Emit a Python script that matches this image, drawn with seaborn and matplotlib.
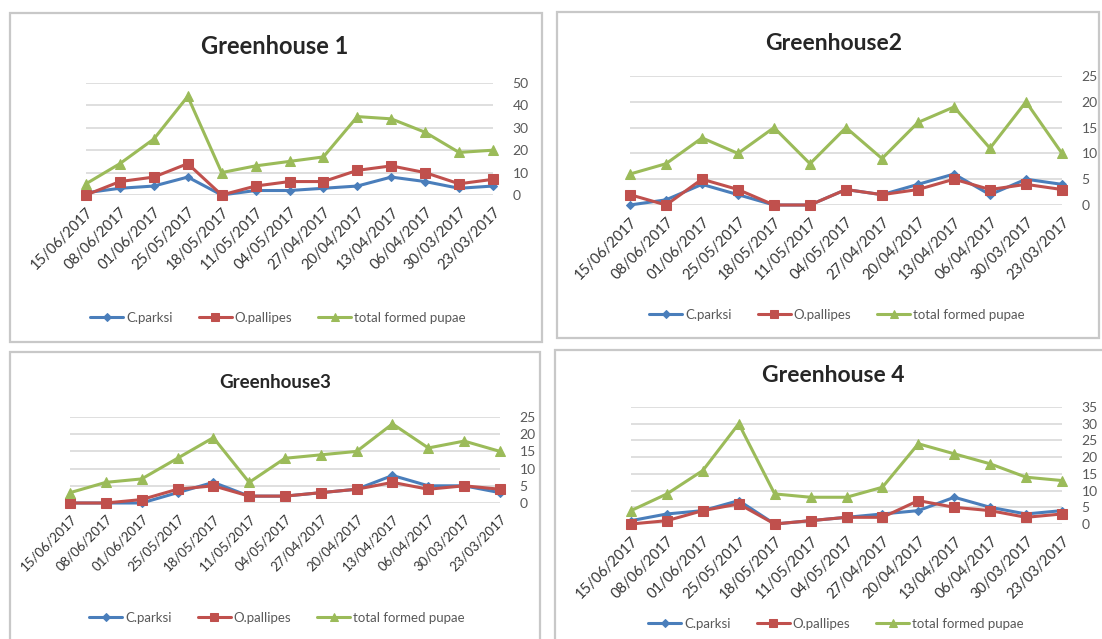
import pandas as pd
import seaborn as sns
import matplotlib.pyplot as plt
from matplotlib.patches import Rectangle

dates = ['15/06/2017', '08/06/2017', '01/06/2017', '25/05/2017', '18/05/2017', '11/05/2017', '04/05/2017',
         '27/04/2017', '20/04/2017', '13/04/2017', '06/04/2017', '30/03/2017', '23/03/2017']
series_names = ['C.parksi', 'O.pallipes', 'total formed pupae']

gh1_parksi = [1, 3, 4, 8, 0, 2, 2, 3, 4, 8, 6, 3, 4]
gh1_pallipes = [0, 6, 8, 14, 0, 4, 6, 6, 11, 13, 10, 5, 7]
gh1_total = [5, 14, 25, 44, 10, 13, 15, 17, 35, 34, 28, 19, 20]

gh2_parksi = [0, 1, 4, 2, 0, 0, 3, 2, 4, 6, 2, 5, 4]
gh2_pallipes = [2, 0, 5, 3, 0, 0, 3, 2, 3, 5, 3, 4, 3]
gh2_total = [6, 8, 13, 10, 15, 8, 15, 9, 16, 19, 11, 20, 10]

gh3_parksi = [0, 0, 0, 3, 6, 2, 2, 3, 4, 8, 5, 5, 3]
gh3_pallipes = [0, 0, 1, 4, 5, 2, 2, 3, 4, 6, 4, 5, 4]
gh3_total = [3, 6, 7, 13, 19, 6, 13, 14, 15, 23, 16, 18, 15]

gh4_parksi = [1, 3, 4, 7, 0, 1, 2, 3, 4, 8, 5, 3, 4]
gh4_pallipes = [0, 1, 4, 6, 0, 1, 2, 2, 7, 5, 4, 2, 3]
gh4_total = [4, 9, 16, 30, 9, 8, 8, 11, 24, 21, 18, 14, 13]

titles = ['Greenhouse 1', 'Greenhouse2', 'Greenhouse3', 'Greenhouse 4']
y_max = [50, 25, 25, 35]
y_step = [10, 5, 5, 5]

W, H = 1102, 639
sns.set_style('white')
plt.rcParams['font.family'] = ['Lato', 'DejaVu Sans']

colors = {'C.parksi': '#4a7ebb', 'O.pallipes': '#c0504d', 'total formed pupae': '#9bbb59'}
markers = {'C.parksi': 'D', 'O.pallipes': 's', 'total formed pupae': '^'}
msizes = {'C.parksi': 4.5, 'O.pallipes': 6.5, 'total formed pupae': 6.5}

fig = plt.figure(figsize=(W / 100, H / 100), dpi=100)

# panel boxes, pixel coords (x0, y0, x1, y1)
boxes = [(10, 13, 542, 342), (557, 12, 1099, 338), (10, 352, 540, 645), (555, 350, 1108, 645)]
for x0, y0, x1, y1 in boxes:
    fig.add_artist(Rectangle((x0 / W, 1 - y1 / H), (x1 - x0) / W, (y1 - y0) / H,
                             transform=fig.transFigure, fill=False, ec='#c8c8c8', lw=1.6))

# axes: left, right, top, bottom (pixels); title pos; legend pos; font sizes
layout = [
    dict(ax=(86, 493, 83, 195), title=(275, 47, 17), legend=(278, 318), tick=10.5),
    dict(ax=(630, 1062, 76, 205), title=(834, 43, 16.5), legend=(837, 315), tick=10.5),
    dict(ax=(70, 500, 417, 503), title=(275, 383, 13.5), legend=(277, 618), tick=9.5),
    dict(ax=(631, 1062, 407, 524), title=(833, 375, 16.5), legend=(836, 624), tick=10.5),
]

data = [
    (gh1_parksi, gh1_pallipes, gh1_total),
    (gh2_parksi, gh2_pallipes, gh2_total),
    (gh3_parksi, gh3_pallipes, gh3_total),
    (gh4_parksi, gh4_pallipes, gh4_total),
]

for i in range(4):
    l, r, t, b = layout[i]['ax']
    ax = fig.add_axes([l / W, 1 - b / H, (r - l) / W, (b - t) / H])
    df = pd.DataFrame({'pos': list(range(len(dates))) * 3,
                       'count': data[i][0] + data[i][1] + data[i][2],
                       'series': [s for s in series_names for _ in dates]})
    for s in series_names:
        sns.lineplot(data=df[df['series'] == s], x='pos', y='count', ax=ax, color=colors[s],
                     marker=markers[s], markersize=msizes[s], markeredgecolor=colors[s],
                     lw=2.2, label=s, clip_on=False, zorder=3)
    ax.set_xlim(0, len(dates) - 1)
    ax.set_ylim(0, y_max[i])
    ax.set_yticks(range(0, y_max[i] + 1, y_step[i]))
    ax.yaxis.tick_right()
    ax.grid(axis='y', color='#d9d9d9', lw=1.2)
    ax.grid(axis='x', visible=False)
    for sp in ax.spines.values():
        sp.set_visible(False)
    ax.set_xticks(range(len(dates)))
    ax.set_xticklabels(dates, rotation=45, ha='right', rotation_mode='anchor')
    ax.tick_params(axis='x', length=0, pad=7, labelsize=layout[i]['tick'], labelcolor='#333333')
    ax.tick_params(axis='y', length=0, pad=14, labelsize=10, labelcolor='#595959')
    ax.set_xlabel('')
    ax.set_ylabel('')
    tx, ty, tf = layout[i]['title']
    fig.text(tx / W, 1 - ty / H, titles[i], ha='center', va='center', fontsize=tf,
             fontweight='bold', color='#262626')
    lx, ly = layout[i]['legend']
    ax.legend(loc='center', bbox_to_anchor=(lx / W, 1 - ly / H), bbox_transform=fig.transFigure,
              ncol=3, frameon=False, fontsize=9.5, labelcolor='#595959', handlelength=2.5,
              handletextpad=0.2, columnspacing=2.0, markerscale=0.8)

fig.savefig('out.png', dpi=100)
